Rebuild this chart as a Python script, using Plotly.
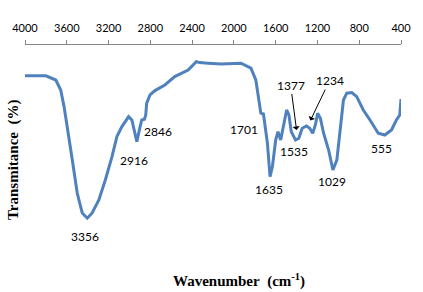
import plotly.graph_objects as go

# FTIR spectrum (wavenumber cm-1, transmittance %)
wavenumber = [4000, 3800, 3705, 3658, 3626, 3594, 3547, 3500, 3452, 3404, 3357, 3293, 3231,
              3167, 3120, 3072, 3008, 2977, 2946, 2929, 2898, 2882, 2856, 2844, 2835, 2803,
              2756, 2661, 2566, 2438, 2360, 2328, 2248, 2122, 1932, 1837, 1790, 1758, 1742,
              1717, 1704, 1679, 1654, 1631, 1600, 1578, 1552, 1527, 1495, 1473, 1451, 1410,
              1378, 1346, 1305, 1274, 1245, 1220, 1198, 1172, 1141, 1093, 1052, 1014, 982,
              951, 919, 871, 824, 761, 697, 618, 555, 491, 444, 412, 400]
transmittance = [84.6, 84.6, 82.5, 77.5, 69.2, 59.2, 42.5, 26.0, 16.0, 13.4, 16.0, 22.5, 32.5,
                 44.2, 54.2, 59.2, 64.2, 62.5, 55.9, 51.7, 59.2, 62.5, 62.9, 65.0, 70.9, 75.0,
                 77.2, 80.0, 84.2, 87.5, 91.7, 91.2, 90.9, 90.5, 90.9, 88.4, 82.5, 72.5, 65.9,
                 65.5, 60.9, 50.9, 34.2, 39.2, 52.5, 56.7, 52.5, 60.0, 67.5, 65.0, 56.7, 52.5,
                 53.4, 58.4, 59.5, 58.4, 55.9, 60.0, 65.9, 63.4, 55.9, 47.5, 37.5, 42.5, 59.2,
                 72.5, 75.9, 76.2, 74.2, 67.5, 62.5, 55.9, 55.0, 57.5, 62.5, 65.0, 73.0]

tick_vals = [4000, 3600, 3200, 2800, 2400, 2000, 1600, 1200, 800, 400]

# peak labels: text, label position (wavenumber, transmittance)
peak_text = ["3356", "2916", "2846", "1701", "1635", "1535", "1029", "555"]
peak_x = [3421, 2961, 2730, 1901, 1663, 1426, 1061, 586]
peak_y = [4.2, 42.5, 56.6, 57.9, 27.9, 46.6, 31.6, 48.4]

# labels with arrows: text, label (x, y), arrow head (x, y)
arrow_text = ["1377", "1234"]
arrow_label_x = [1457, 1084]
arrow_label_y = [80.0, 82.2]
arrow_head_x = [1400, 1268]
arrow_head_y = [57.5, 62.2]

fig = go.Figure()
fig.add_trace(go.Scatter(x=wavenumber, y=transmittance, mode="lines",
                         line=dict(color="#4F81BD", width=3), hoverinfo="skip"))

label_font = dict(family="Lato", size=12, color="black")
anns = []
for t, x, y in zip(peak_text, peak_x, peak_y):
    anns.append(dict(x=x, y=y, xref="x", yref="y", text=t, showarrow=False, font=label_font))
for t, lx, ly, hx, hy in zip(arrow_text, arrow_label_x, arrow_label_y, arrow_head_x, arrow_head_y):
    anns.append(dict(x=hx, y=hy, ax=lx, ay=ly, xref="x", yref="y", axref="x", ayref="y",
                     text=t, font=label_font, showarrow=True, arrowhead=1, arrowsize=1.2,
                     arrowwidth=1, arrowcolor="black"))
anns.append(dict(x=(237.5 - 22) / 379, xref="paper", y=-0.175, yref="paper",
                 xanchor="center", yanchor="middle",
                 text="<b>Wavenumber\u00a0\u00a0(cm<sup>-1</sup>)</b>", showarrow=False,
                 font=dict(family="Liberation Serif", size=15, color="black")))
anns.append(dict(x=(10 - 22) / 379, xref="paper", y=0.425, yref="paper",
                 xanchor="center", yanchor="middle",
                 text="<b>Transmitance\u00a0\u00a0(%)</b>", textangle=-90, showarrow=False,
                 font=dict(family="Liberation Serif", size=15, color="black")))

fig.update_layout(
    width=423, height=292,
    margin=dict(l=22, r=22, t=45, b=47),
    paper_bgcolor="white", plot_bgcolor="white",
    showlegend=False,
    xaxis=dict(side="top", range=[4000, 400], tickvals=tick_vals, ticks="outside",
               ticklen=4, tickcolor="#868686", showline=True, linecolor="#868686",
               linewidth=1, showgrid=False, zeroline=False, ticklabelstandoff=4,
               tickfont=dict(family="Lato", size=11, color="black")),
    yaxis=dict(range=[0, 100], visible=False, showgrid=False, zeroline=False),
    annotations=anns,
)

fig.write_html("out.html", config={"displayModeBar": False},
               post_script="document.body.style.margin='0';")
